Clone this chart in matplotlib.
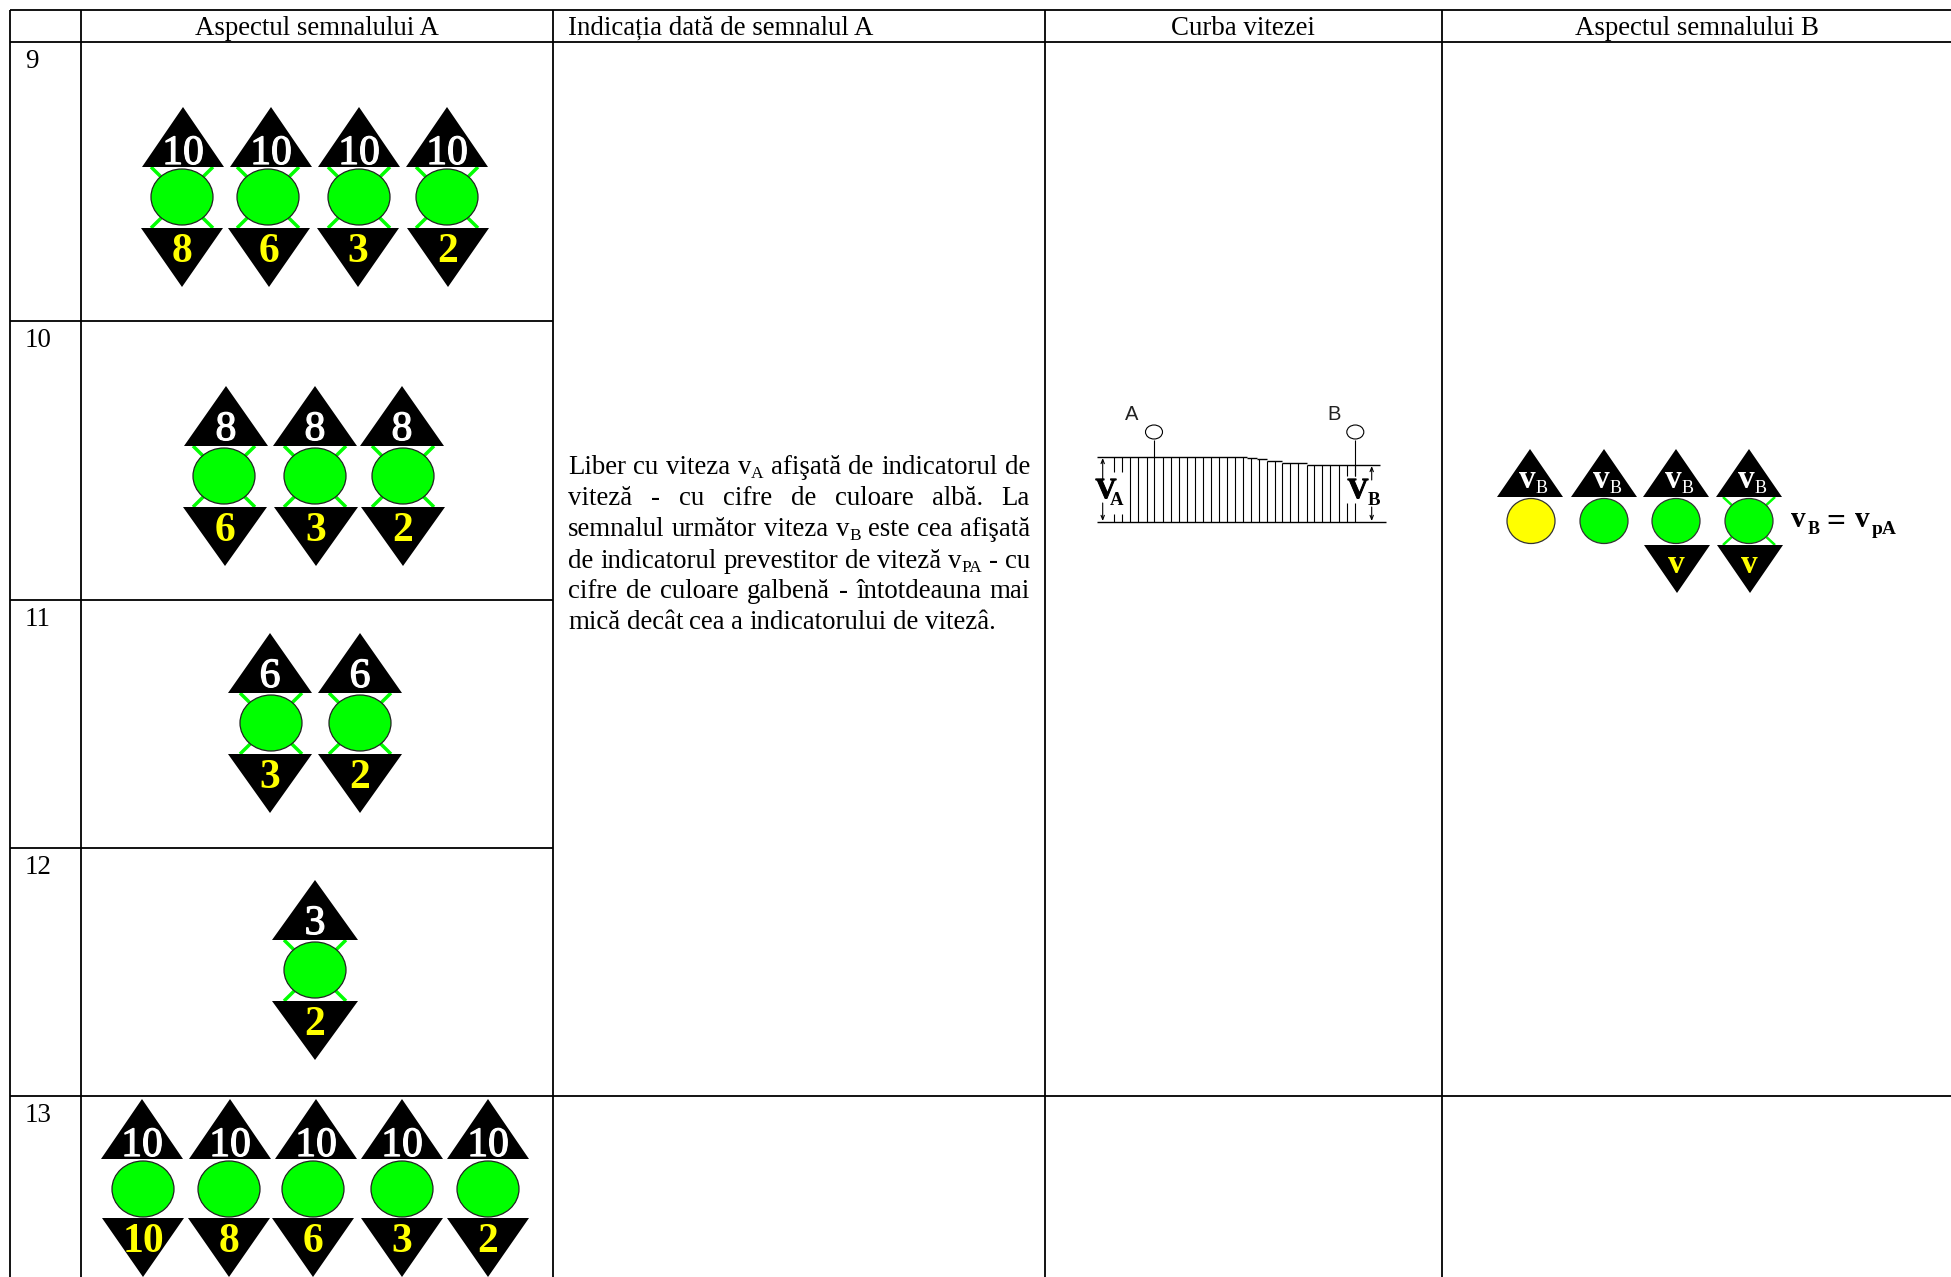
import matplotlib
matplotlib.use('Agg')
from matplotlib import pyplot as plt
from matplotlib.patches import Polygon, Ellipse
from matplotlib import patheffects as pe

W, H = 1951, 1277

# table grid, in pixels of the reference
col_x = [10, 81, 553, 1045, 1442]
head_y = [10, 42]
row_y = [321, 600, 848]
row5_y = 1096

headers = ['Aspectul semnalului A', 'Indicația dată de semnalul A', 'Curba vitezei', 'Aspectul semnalului B']
header_x = [317, 568, 1243, 1697]
row_names = ['9', '10', '11', '12', '13']
row_tops = [42, 321, 600, 848, 1096]

# signals in column A
row9_top_x = [183, 271, 359, 447]
row9_lamp_x = [182, 268, 359, 447]
row9_bot_x = [182, 269, 358, 448]
row9_top = ['10', '10', '10', '10']
row9_bot = ['8', '6', '3', '2']

row10_top_x = [226, 315, 402]
row10_lamp_x = [224, 315, 403]
row10_bot_x = [225, 316, 403]
row10_top = ['8', '8', '8']
row10_bot = ['6', '3', '2']

row11_top_x = [270, 360]
row11_lamp_x = [271, 360]
row11_top = ['6', '6']
row11_bot = ['3', '2']

row12_x = [315]
row12_top = ['3']
row12_bot = ['2']

row13_top_x = [142, 230, 316, 402, 488]
row13_lamp_x = [143, 229, 313, 402, 488]
row13_top = ['10', '10', '10', '10', '10']
row13_bot = ['10', '8', '6', '3', '2']

# description cell
text_lines = ['Liber cu viteza v_A afişată de indicatorul de',
              'viteză - cu cifre de culoare albă. La',
              'semnalul următor viteza v_B este cea afişată',
              'de indicatorul prevestitor de viteză v_PA - cu',
              'cifre de culoare galbenă - întotdeauna mai',
              'mică decât cea a indicatorului de vitezâ.']
text_base = [474, 505, 536, 568, 598, 629]

# speed curve
curve_x = [1097.3, 1246.7, 1256.7, 1266.7, 1281.7, 1306.7, 1380]
curve_y = [456.7, 458, 459.3, 461, 463, 464.7]
hatch_x = [1130, 1138.3, 1146.7, 1154.3, 1162.7, 1170.7, 1179, 1186.7, 1195, 1202.7,
           1210.7, 1218.7, 1226.7, 1234.7, 1242.7, 1250.7, 1258.7, 1266.7, 1274.7,
           1282.3, 1290.3, 1298.3, 1306.7, 1314.3, 1322.3, 1330.3, 1338.7]
broken_x = [1114, 1122, 1346.7, 1355.3]

# signals in column B
b_top_x = [1530, 1604, 1676, 1749]
b_lamp_x = [1531, 1604, 1676, 1749]
b_lamp_col = ['#ffff00', '#00ff00', '#00ff00', '#00ff00']
b_bot_x = [1677, 1750]

SERIF = 'Liberation Serif'
FS = 19.4
GREEN = '#00ff00'
YELLOW = '#ffff00'

fig = plt.figure(figsize=(W / 100, H / 100), dpi=100)
ax = fig.add_axes([0, 0, 1, 1])
ax.set_xlim(0, W)
ax.set_ylim(H, 0)
ax.axis('off')


def line(x, y, lw=1.3, c='k', z=2):
    ax.plot(x, y, color=c, lw=lw, zorder=z, solid_capstyle='butt')


def signal(xt, xl, xb, apex, top=None, bot=None, cross=True, hw=41, rx=31, ry=28, fs=30, gap=61):
    base = apex + 60
    cy = base + 30
    bt = base + gap
    if cross:
        line([xl - rx, xl + rx], [base, bt], lw=2.5, c=GREEN, z=3)
        line([xl + rx, xl - rx], [base, bt], lw=2.5, c=GREEN, z=3)
    ax.add_patch(Ellipse((xl, cy), 2 * rx, 2 * ry, fc=GREEN, ec='#222222', lw=0.9, zorder=4))
    ax.add_patch(Polygon([(xt, apex), (xt - hw, base), (xt + hw, base)], fc='k', ec='none', zorder=5))
    if top is not None:
        lift = 3 if len(top) > 1 else 6
        t = ax.text(xt, base - lift, top, color='white', family=SERIF, fontsize=fs,
                    ha='center', va='baseline', zorder=6)
        t.set_path_effects([pe.withStroke(linewidth=0.9, foreground='white')])
    if bot is not None:
        ax.add_patch(Polygon([(xb - hw, bt), (xb + hw, bt), (xb, bt + 59)], fc='k', ec='none', zorder=5))
        ax.text(xb, bt + 34, bot, color=YELLOW, family=SERIF, weight='bold', fontsize=fs,
                ha='center', va='baseline', zorder=6)


# grid
line([col_x[0], W], [head_y[0]] * 2)
line([col_x[0], W], [head_y[1]] * 2)
line([col_x[0], W], [row5_y] * 2)
for y in row_y:
    line([col_x[0], col_x[2]], [y, y])
for x in col_x:
    line([x, x], [head_y[0], H])

for i, s in enumerate(headers):
    ha = 'left' if i == 1 else 'center'
    ax.text(header_x[i], 35, s, family=SERIF, fontsize=FS, ha=ha, va='baseline')
for s, y in zip(row_names, row_tops):
    ax.text(25, y + 26, s, family=SERIF, fontsize=FS, ha='left', va='baseline')

# column A
for i in range(4):
    signal(row9_top_x[i], row9_lamp_x[i], row9_bot_x[i], 107, row9_top[i], row9_bot[i])
for i in range(3):
    signal(row10_top_x[i], row10_lamp_x[i], row10_bot_x[i], 386, row10_top[i], row10_bot[i], hw=42)
for i in range(2):
    signal(row11_top_x[i], row11_lamp_x[i], row11_top_x[i], 633, row11_top[i], row11_bot[i], hw=42)
for x, t, b in zip(row12_x, row12_top, row12_bot):
    signal(x, x, x, 880, t, b, hw=43)
for i in range(5):
    signal(row13_top_x[i], row13_lamp_x[i], row13_lamp_x[i], 1099, row13_top[i], row13_bot[i],
           cross=False, gap=59)

# description, justified word by word
rend = fig.canvas.get_renderer()


def width(s, fs):
    t = ax.text(0, 0, s, family=SERIF, fontsize=fs)
    w = t.get_window_extent(rend).width
    t.remove()
    return w


left, right = 568, 1030
for n, (s, y) in enumerate(zip(text_lines, text_base)):
    words = s.split(' ')
    ws = []
    for w in words:
        if '_' in w:
            a, b = w.split('_')
            ws.append(width(a, FS) + width(b, 12.5))
        else:
            ws.append(width(w, FS))
    gap = 6.4 if n == len(text_lines) - 1 else (right - left - sum(ws)) / (len(ws) - 1)
    x = left
    for w, wd in zip(words, ws):
        if '_' in w:
            a, b = w.split('_')
            ax.text(x, y, a, family=SERIF, fontsize=FS, va='baseline')
            ax.text(x + width(a, FS), y + 4, b, family=SERIF, fontsize=12.5, va='baseline')
        else:
            ax.text(x, y, w, family=SERIF, fontsize=FS, va='baseline')
        x += wd + gap

# speed curve
for i in range(len(curve_y)):
    line(curve_x[i:i + 2], [curve_y[i]] * 2, lw=1.0)
line([1097.3, 1386], [522.3, 522.3], lw=1.0)
for x in hatch_x:
    k = sum(1 for c in curve_x[1:-1] if c <= x)
    line([x, x], [curve_y[k], 522.3], lw=0.8)
for x in broken_x[:2]:
    line([x, x], [456.7, 472], lw=0.8)
    line([x, x], [514, 522.3], lw=0.8)
for x in broken_x[2:]:
    line([x, x], [464.7, 476], lw=0.8)
    line([x, x], [503, 522.3], lw=0.8)
line([1154, 1154], [440, 456.7], lw=0.8)
line([1355.3, 1355.3], [440, 476], lw=0.8)
ax.add_patch(Ellipse((1154, 432), 17, 14, fc='white', ec='k', lw=0.8))
ax.add_patch(Ellipse((1355.3, 432), 17, 14, fc='white', ec='k', lw=0.8))
ax.text(1131.5, 414, 'A', family='Liberation Sans', fontsize=14.5, ha='center', va='center', color='#222222')
ax.text(1334, 415, 'B', family='Liberation Sans', fontsize=14.5, ha='center', va='center', color='#222222')
heavy = [pe.withStroke(linewidth=0.7, foreground='k')]
ax.text(1106, 498, 'V', family=SERIF, weight='bold', fontsize=21, ha='center', va='baseline', path_effects=heavy)
ax.text(1117, 505, 'A', family=SERIF, weight='bold', fontsize=13.5, ha='center', va='baseline')
ax.text(1358, 498, 'V', family=SERIF, weight='bold', fontsize=21, ha='center', va='baseline', path_effects=heavy)
ax.text(1374, 505, 'B', family=SERIF, weight='bold', fontsize=13.5, ha='center', va='baseline')
arrow = dict(arrowstyle='->,head_width=0.12,head_length=0.3', lw=0.8, shrinkA=0, shrinkB=0)
ax.annotate('', (1102.7, 458), (1102.7, 480), arrowprops=arrow)
ax.annotate('', (1102.7, 521), (1102.7, 503), arrowprops=arrow)
ax.annotate('', (1371.7, 466), (1371.7, 480), arrowprops=arrow)
ax.annotate('', (1371.7, 521), (1371.7, 507), arrowprops=arrow)

# column B
for i in range(4):
    apex = 449
    xt = b_top_x[i]
    xl = b_lamp_x[i]
    if i == 3:
        line([xl - 26, xl + 26], [497, 545], lw=1.8, c=GREEN, z=3)
        line([xl + 26, xl - 26], [497, 545], lw=1.8, c=GREEN, z=3)
    ax.add_patch(Ellipse((xl, 521), 48, 45, fc=b_lamp_col[i], ec='#333333', lw=0.9, zorder=4))
    ax.add_patch(Polygon([(xt, apex), (xt - 33, 497), (xt + 33, 497)], fc='k', ec='none', zorder=5))
    ax.text(xt - 3, 488, 'v', family=SERIF, weight='bold', color='white', fontsize=24, ha='center', va='baseline', zorder=6)
    ax.text(xt + 12, 493, 'B', family=SERIF, color='white', fontsize=13, ha='center', va='baseline', zorder=6)
for x in b_bot_x:
    ax.add_patch(Polygon([(x - 33, 545), (x + 33, 545), (x, 593)], fc='k', ec='none', zorder=5))
    ax.text(x - 1, 573, 'v', family=SERIF, weight='bold', color=YELLOW, fontsize=24, ha='center', va='baseline', zorder=6)
ax.text(1791, 527, 'v', family=SERIF, weight='bold', fontsize=21, va='baseline')
ax.text(1808, 534, 'B', family=SERIF, weight='bold', fontsize=13, va='baseline')
ax.text(1826, 531, '=', family=SERIF, weight='bold', fontsize=24, va='baseline')
ax.text(1855, 527, 'v', family=SERIF, weight='bold', fontsize=21, va='baseline')
ax.text(1872, 534, 'pA', family=SERIF, weight='bold', fontsize=14, va='baseline')

fig.savefig('out.png', dpi=100)
